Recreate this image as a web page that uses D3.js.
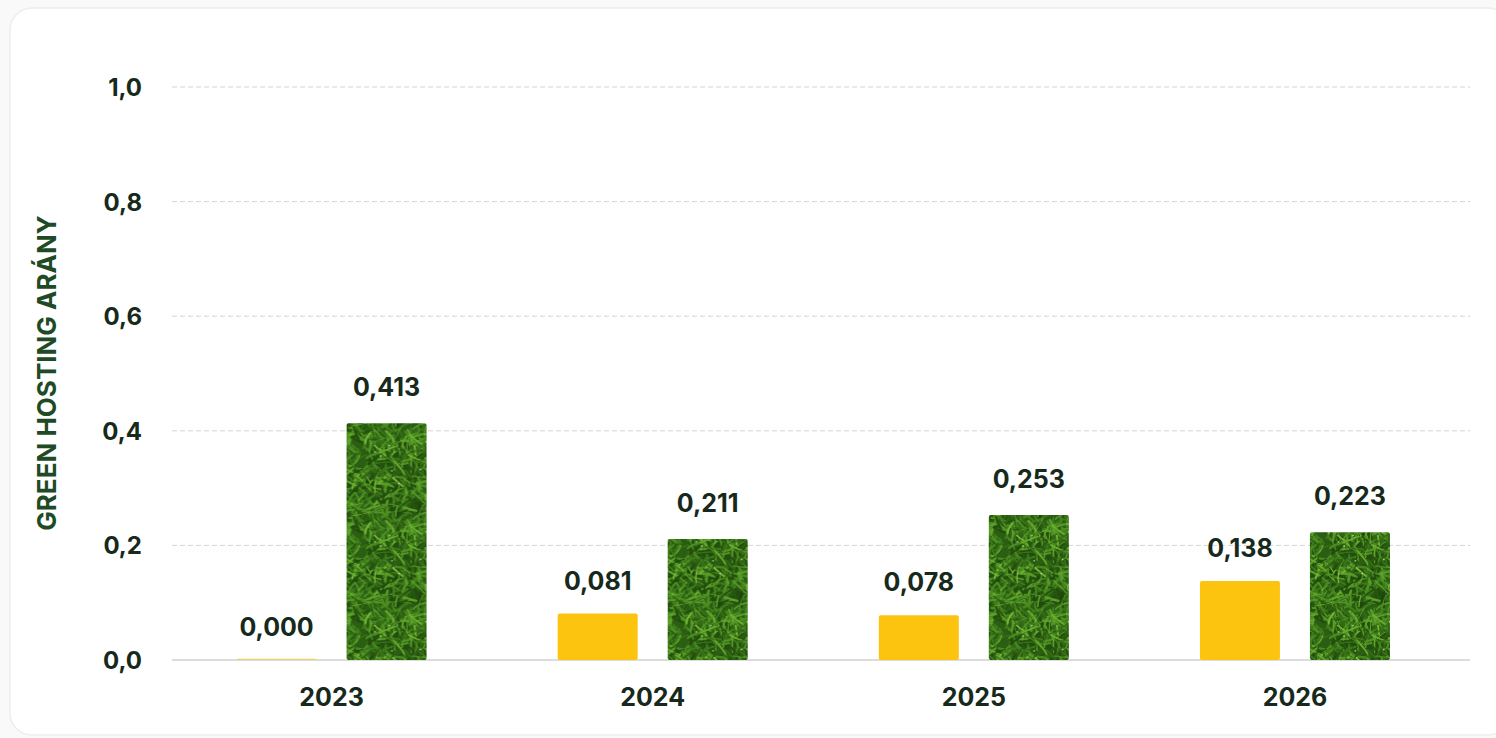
<!DOCTYPE html>
<html>
<head>
<meta charset="utf-8">
<script src="https://cdn.jsdelivr.net/npm/d3@7"></script>
<style>
  html, body { margin: 0; padding: 0; background: #f8f9f8; }
  svg { display: block; }
</style>
</head>
<body>
<svg id="chart" width="1496" height="738"></svg>
<script>
const years = ["2023", "2024", "2025", "2026"];
const seriesKeys = ["yellow", "green"];
const yellowValues = [0.000, 0.081, 0.078, 0.138];
const greenValues = [0.413, 0.211, 0.253, 0.223];
const yTicks = [0.0, 0.2, 0.4, 0.6, 0.8, 1.0];
const yTitle = "GREEN HOSTING ARÁNY";

const svg = d3.select("#chart");
const plotLeft = 172, plotRight = 1470, plotTop = 87, plotBottom = 660;
const font = "Inter, 'Open Sans', 'DejaVu Sans', sans-serif";
const textDark = "#16291b";

// card
svg.append("rect").attr("x", 10).attr("y", 8).attr("width", 1500).attr("height", 727)
  .attr("rx", 22).attr("fill", "#ffffff").attr("stroke", "#eceeec").attr("stroke-width", 1.5);

// grass pattern (decorative texture)
const defs = svg.append("defs");
const P = 90;
const pat = defs.append("pattern").attr("id", "grass").attr("patternUnits", "userSpaceOnUse")
  .attr("width", P).attr("height", P);
pat.append("rect").attr("width", P).attr("height", P).attr("fill", "#2b5e12");
let seed = 987654;
function rnd() { seed = (seed * 1103515245 + 12345) % 2147483648; return seed / 2147483648; }
// dark mottling
for (let i = 0; i < 40; i++) {
  const x = rnd() * P, yy = rnd() * P, r = 3 + rnd() * 7;
  for (const dx of [-P, 0, P]) for (const dy of [-P, 0, P]) {
    pat.append("circle").attr("cx", x + dx).attr("cy", yy + dy).attr("r", r)
      .attr("fill", rnd() < 0.6 ? "#1c420a" : "#3c7a1a").attr("opacity", 0.55);
  }
}
const bladeColors = ["#1f4c0b", "#356f16", "#3f7f1b", "#4a8d20", "#559a25", "#5fa52a", "#2a5c10", "#6db32f", "#80c23a"];
const bladeWeights = [2, 3, 3, 3, 3, 2, 2, 1.3, 0.5];
const wsum = bladeWeights.reduce((a, b) => a + b, 0);
function pickColor() {
  let r = rnd() * wsum;
  for (let i = 0; i < bladeColors.length; i++) { r -= bladeWeights[i]; if (r <= 0) return bladeColors[i]; }
  return bladeColors[0];
}
for (let i = 0; i < 420; i++) {
  const x = rnd() * P, yy = rnd() * P;
  const ang = -Math.PI / 2 + (rnd() - 0.5) * 3.0;
  const len = 6 + rnd() * 13;
  const bend = (rnd() - 0.5) * 9;
  const x2 = x + Math.cos(ang) * len, y2 = yy + Math.sin(ang) * len;
  const cx = (x + x2) / 2 + bend, cy = (yy + y2) / 2 + bend * 0.4;
  const c = pickColor();
  const sw = 0.8 + rnd() * 1.6;
  for (const dx of [-P, 0, P]) for (const dy of [-P, 0, P]) {
    if (x + dx < -22 || x + dx > P + 22 || yy + dy < -22 || yy + dy > P + 22) continue;
    pat.append("path")
      .attr("d", `M${x+dx},${yy+dy} Q${cx+dx},${cy+dy} ${x2+dx},${y2+dy}`)
      .attr("fill", "none").attr("stroke", c)
      .attr("stroke-width", sw).attr("stroke-linecap", "round").attr("opacity", 0.9);
  }
}
// sparse highlights
for (let i = 0; i < 10; i++) {
  const x = rnd() * P, yy = rnd() * P;
  pat.append("circle").attr("cx", x).attr("cy", yy).attr("r", 0.9).attr("fill", "#c8ea8a").attr("opacity", 0.8);
}

// scales
const y = d3.scaleLinear().domain([0, 1]).range([plotBottom, plotTop]);
const x0 = d3.scaleBand().domain(years).range([171, 1455.5]).padding(0);
const x1 = d3.scaleBand().domain(seriesKeys).range([-95, 95]).paddingInner(0.2727).paddingOuter(0);

// gridlines
svg.append("g").selectAll("line").data(yTicks.filter(d => d > 0)).join("line")
  .attr("x1", plotLeft).attr("x2", plotRight)
  .attr("y1", d => y(d)).attr("y2", d => y(d))
  .attr("stroke", "#d3d6d0").attr("stroke-width", 1).attr("stroke-dasharray", "5,3");
svg.append("line").attr("x1", plotLeft).attr("x2", plotRight)
  .attr("y1", y(0)).attr("y2", y(0)).attr("stroke", "#cfd2cf").attr("stroke-width", 1.5);

// y axis labels
const yAxis = d3.axisLeft(y).tickValues(yTicks).tickSize(0).tickPadding(0)
  .tickFormat(d => d3.format(".1f")(d).replace(".", ","));
const yg = svg.append("g").attr("transform", `translate(142,0)`).call(yAxis);
yg.select(".domain").remove();
yg.selectAll("text").attr("font-family", font).attr("font-weight", 700)
  .attr("font-size", 24).attr("fill", textDark).attr("dy", "0.35em");

// y title
svg.append("text").attr("transform", `translate(46,373) rotate(-90)`)
  .attr("text-anchor", "middle").attr("dominant-baseline", "central")
  .attr("font-family", font).attr("font-weight", 700).attr("font-size", 26)
  .attr("fill", "#1e4a26").text(yTitle);

// x axis labels
const xAxis = d3.axisBottom(x0).tickSize(0).tickPadding(0);
const xg = svg.append("g").attr("transform", `translate(0,${plotBottom})`).call(xAxis);
xg.select(".domain").remove();
xg.selectAll("text").attr("font-family", font).attr("font-weight", 700)
  .attr("font-size", 25).attr("fill", textDark).attr("dy", "1.85em");

// bars
const rows = years.map((yr, i) => ({ year: yr, yellow: yellowValues[i], green: greenValues[i] }));
const groups = svg.append("g").selectAll("g").data(rows).join("g")
  .attr("transform", d => `translate(${x0(d.year) + x0.bandwidth() / 2},0)`);
const cells = groups.selectAll("g").data(d => seriesKeys.map(k => ({ key: k, value: d[k] }))).join("g");
cells.append("rect")
  .attr("x", d => x1(d.key)).attr("width", x1.bandwidth())
  .attr("y", d => Math.min(y(d.value), plotBottom - 1.5))
  .attr("height", d => Math.max(plotBottom - y(d.value), 1.5))
  .attr("rx", 2)
  .attr("fill", d => d.key === "green" ? "url(#grass)" : "#fdc40f")
  .attr("opacity", d => d.value === 0 ? 0.45 : 1);
cells.append("text")
  .attr("x", d => x1(d.key) + x1.bandwidth() / 2)
  .attr("y", d => y(d.value) - (d.key === "green" ? 27 : 24))
  .attr("text-anchor", "middle")
  .attr("font-family", font).attr("font-weight", 700).attr("font-size", 25)
  .attr("fill", textDark)
  .text(d => d3.format(".3f")(d.value).replace(".", ","));
</script>
</body>
</html>
